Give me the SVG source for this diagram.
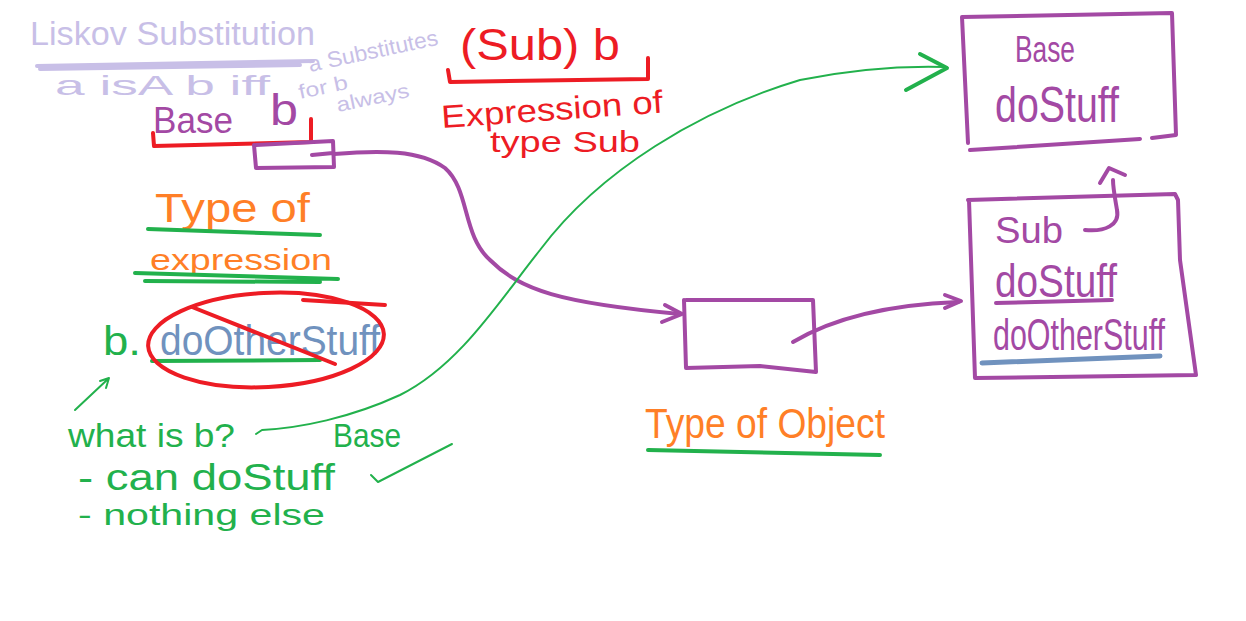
<svg xmlns="http://www.w3.org/2000/svg" width="1246" height="621" viewBox="0 0 1246 621">
<style>
text{font-family:"Liberation Sans","DejaVu Sans",sans-serif;}
.pu{fill:#a349a4}.rd{fill:#ed1c24}.gr{fill:#22b14c}.or{fill:#ff7f27}.bl{fill:#7092be}.lv{fill:#c8bfe7}
.s{fill:none;stroke-linecap:round;stroke-linejoin:round}
.spu{stroke:#a349a4;stroke-width:4}.srd{stroke:#ed1c24;stroke-width:4}.sgr{stroke:#22b14c;stroke-width:4}
.sgt{stroke:#22b14c;stroke-width:2}.sbl{stroke:#7092be;stroke-width:5}.slv{stroke:#c8bfe7;stroke-width:4}
</style>
<rect width="1246" height="621" fill="#ffffff"/>

<g id="title">
<text class="lv" x="30" y="45" font-size="34" textLength="285" lengthAdjust="spacingAndGlyphs">Liskov Substitution</text>
<path class="s slv" d="M37,66 L313,61 M40,69 L300,65"/>
<text class="lv" x="55" y="95" font-size="28" textLength="215" lengthAdjust="spacingAndGlyphs">a isA b iff</text>
<text class="lv" x="310" y="72" font-size="22" textLength="132" lengthAdjust="spacingAndGlyphs" transform="rotate(-12 310 72)">a Substitutes</text>
<text class="lv" x="300" y="99" font-size="20" textLength="50" lengthAdjust="spacingAndGlyphs" transform="rotate(-12 300 99)">for b</text>
<text class="lv" x="338" y="112" font-size="20" textLength="74" lengthAdjust="spacingAndGlyphs" transform="rotate(-12 338 112)">always</text>
</g>

<g id="cast-expression">
<text class="rd" x="460" y="60" font-size="44" textLength="160" lengthAdjust="spacingAndGlyphs">(Sub) b</text>
<path class="s srd" d="M448,70 L450,82 L648,79 L648,58"/>
<text class="rd" x="442" y="128" font-size="32" textLength="222" lengthAdjust="spacingAndGlyphs" transform="rotate(-4 442 128)">Expression of</text>
<text class="rd" x="490" y="152" font-size="30" textLength="150" lengthAdjust="spacingAndGlyphs">type Sub</text>
</g>

<g id="variable-b">
<text class="pu" x="153" y="133" font-size="36" textLength="80" lengthAdjust="spacingAndGlyphs">Base</text>
<text class="pu" x="270" y="125" font-size="44" textLength="28" lengthAdjust="spacingAndGlyphs">b</text>
<path class="s srd" d="M153,133 L154,146 L311,142 L311,119"/>
<path class="s spu" d="M256,145 L333,141 L334,167 L256,168 L254,145 M312,155 L333,153"/>
</g>

<g id="type-of-expression">
<text class="or" x="155" y="222" font-size="40" textLength="155" lengthAdjust="spacingAndGlyphs">Type of</text>
<path class="s sgr" d="M148,229 L320,235"/>
<text class="or" x="150" y="270" font-size="30" textLength="182" lengthAdjust="spacingAndGlyphs">expression</text>
<path class="s sgr" d="M135,273 L338,279 M145,281 L320,282"/>
</g>

<g id="call">
<text class="gr" x="103" y="355" font-size="40" textLength="38" lengthAdjust="spacingAndGlyphs">b.</text>
<text class="bl" x="160" y="355" font-size="42" textLength="220" lengthAdjust="spacingAndGlyphs">doOtherStuff</text>
<path class="s sgr" d="M152,361 L320,360"/>
<ellipse class="s srd" cx="266" cy="340" rx="118" ry="47" transform="rotate(-3 266 340)"/>
<path class="s srd" d="M192,307 L335,364 M303,300 L385,305"/>
</g>

<g id="question">
<path class="s sgt" d="M75,410 L108,379 M100,381 L109,378 L106,388"/>
<text class="gr" x="68" y="447" font-size="34" textLength="167" lengthAdjust="spacingAndGlyphs">what is b?</text>
<text class="gr" x="333" y="447" font-size="34" textLength="68" lengthAdjust="spacingAndGlyphs">Base</text>
<text class="gr" x="78" y="490" font-size="36" textLength="257" lengthAdjust="spacingAndGlyphs">- can doStuff</text>
<path class="s sgt" d="M371,475 L378,482 L452,444"/>
<text class="gr" x="78" y="525" font-size="30" textLength="247" lengthAdjust="spacingAndGlyphs">- nothing else</text>
</g>

<g id="object">
<path class="s spu" d="M686,300 L813,300 L816,372 L760,366 L686,368 L684,300"/>
<text class="or" x="645" y="438" font-size="42" textLength="240" lengthAdjust="spacingAndGlyphs">Type of Object</text>
<path class="s sgr" d="M648,450 L880,455"/>
</g>

<g id="base-class">
<path class="s spu" d="M962,17 L1172,13 L1176,135 L1152,138 M1140,139 L970,150 M962,17 L968,143"/>
<text class="pu" x="1015" y="62" font-size="36" textLength="60" lengthAdjust="spacingAndGlyphs">Base</text>
<text class="pu" x="995" y="122" font-size="50" textLength="124" lengthAdjust="spacingAndGlyphs">doStuff</text>
</g>

<g id="sub-class">
<path class="s spu" d="M968,200 L1175,194 L1178,200 L1180,260 L1196,375 L975,378 L969,200"/>
<text class="pu" x="995" y="243" font-size="36" textLength="68" lengthAdjust="spacingAndGlyphs">Sub</text>
<text class="pu" x="995" y="297" font-size="46" textLength="122" lengthAdjust="spacingAndGlyphs">doStuff</text>
<path class="s spu" d="M996,303 L1112,300"/>
<text class="pu" x="993" y="350" font-size="44" textLength="172" lengthAdjust="spacingAndGlyphs">doOtherStuff</text>
<path class="s sbl" d="M982,363 L1160,356"/>
</g>

<g id="connectors">
<path class="s spu" d="M334,154 C380,150 420,150 445,168 C470,190 462,235 490,260 C520,290 560,303 680,314"/>
<path class="s spu" d="M665,305 L682,314 L662,322"/>
<path class="s spu" d="M793,342 C830,320 880,305 958,302"/>
<path class="s spu" d="M945,295 L961,301 L945,308"/>
<path class="s sgt" d="M256,434 L262,430 C300,428 350,418 400,395 C460,365 500,300 540,250 C600,170 700,110 800,80 C860,68 910,66 945,67"/>
<path class="s sgr" d="M920,54 L947,68 L906,90"/>
<path class="s spu" d="M1085,230 C1105,232 1120,225 1117,210 C1115,198 1113,188 1113,180"/>
<path class="s spu" d="M1100,183 L1109,168 L1125,175"/>
</g>
</svg>
